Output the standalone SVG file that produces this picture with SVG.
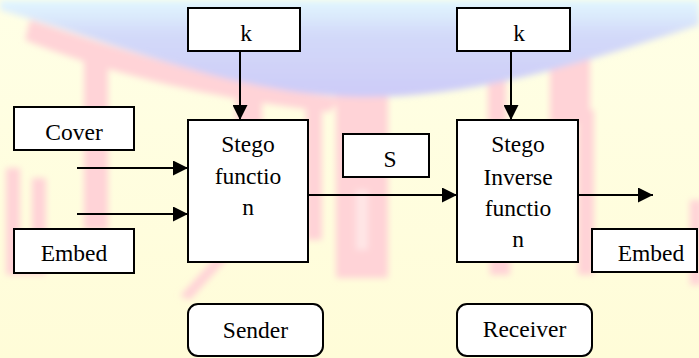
<svg xmlns="http://www.w3.org/2000/svg" width="699" height="358" viewBox="0 0 699 358">
  <style>
    .box { fill: #ffffff; stroke: #000000; stroke-width: 2; }
    .ln { stroke: #000000; stroke-width: 2; fill: none; marker-end: url(#head); }
    .wm { fill: #ffd3d7; }
  </style>
  <defs>
    <marker id="head" viewBox="0 0 15 15" markerWidth="15" markerHeight="15" refX="15" refY="7.5" orient="auto" markerUnits="userSpaceOnUse">
      <path d="M0,0 L15,7.5 L0,15 Z" fill="#000000"/>
    </marker>
    <linearGradient id="bg" x1="0" y1="0" x2="0" y2="1">
      <stop offset="0" stop-color="#ffffe6"/>
      <stop offset="1" stop-color="#fffcd8"/>
    </linearGradient>
    <linearGradient id="sky" x1="0" y1="0" x2="0" y2="1">
      <stop offset="0" stop-color="#e2f8ff"/>
      <stop offset="0.35" stop-color="#d3daf9"/>
      <stop offset="1" stop-color="#cdcbf8"/>
    </linearGradient>
    <filter id="soft" x="-5%" y="-5%" width="110%" height="110%">
      <feGaussianBlur stdDeviation="3"/>
    </filter>
  </defs>

  <!-- backdrop with faint logo watermark -->
  <rect x="0" y="0" width="699" height="358" fill="url(#bg)"/>
  <g id="watermark" filter="url(#soft)">
    <!-- red strokes -->
    <path class="wm" d="M30,20 C120,50 230,85 340,98 L330,112 C220,100 110,75 25,40 Z"/>
    <rect class="wm" x="84" y="55" width="24" height="175"/>
    <path class="wm" d="M6,168 H20 V262 H32 V178 H46 V275 H6 Z"/>
    <rect class="wm" x="236" y="55" width="26" height="70"/>
    <rect class="wm" x="306" y="100" width="16" height="140"/>
    <path class="wm" d="M180,296 L222,250 L230,256 L190,300 Z"/>
    <path class="wm" d="M336,45 H388 V278 H336 Z"/>
    <rect x="356" y="190" width="12" height="60" fill="#ffe6e6"/>
    <rect class="wm" x="488" y="48" width="18" height="75"/>
    <rect class="wm" x="550" y="48" width="40" height="75"/>
    <rect class="wm" x="578" y="110" width="16" height="165"/>
    <rect class="wm" x="490" y="255" width="20" height="20"/>
    <rect class="wm" x="690" y="200" width="12" height="85"/>
    <!-- blue arc across the top -->
    <path d="M0,0 V10 C110,40 230,95 360,97 C480,98 590,60 699,25 V0 Z" fill="url(#sky)"/>
  </g>

  <g id="connectors">
    <line class="ln" x1="240" y1="51" x2="240" y2="120"/>
    <line class="ln" x1="511" y1="51" x2="511" y2="120"/>
    <line class="ln" x1="77" y1="168" x2="188" y2="168"/>
    <line class="ln" x1="77" y1="214" x2="188" y2="214"/>
    <line class="ln" x1="308" y1="195" x2="457" y2="195"/>
    <line class="ln" x1="578" y1="195" x2="653" y2="195"/>
  </g>

  <g id="nodes" font-family="'Liberation Serif', 'DejaVu Serif', serif" font-size="23.5" text-anchor="middle" fill="#000000">
    <g id="key-sender">
      <rect class="box" x="188" y="8" width="112" height="43"/>
      <text x="246" y="41">k</text>
    </g>
    <g id="key-receiver">
      <rect class="box" x="457" y="8" width="113" height="43"/>
      <text x="519" y="41">k</text>
    </g>
    <g id="cover">
      <rect class="box" x="14" y="107" width="120" height="43"/>
      <text x="74" y="140">Cover</text>
    </g>
    <g id="embed-in">
      <rect class="box" x="14" y="229" width="120" height="44"/>
      <text x="74" y="261">Embed</text>
    </g>
    <g id="stego-function">
      <rect class="box" x="188" y="120" width="120" height="142"/>
      <text x="248" y="152">Stego</text>
      <text x="248" y="184">functio</text>
      <text x="248" y="215">n</text>
    </g>
    <g id="stego-channel">
      <rect class="box" x="343" y="134" width="86" height="43"/>
      <text x="390" y="167">S</text>
    </g>
    <g id="stego-inverse">
      <rect class="box" x="457" y="120" width="121" height="142"/>
      <text x="518" y="152">Stego</text>
      <text x="518" y="184.5">Inverse</text>
      <text x="518" y="216">functio</text>
      <text x="518" y="247">n</text>
    </g>
    <g id="embed-out">
      <rect class="box" x="592" y="229" width="105" height="43"/>
      <text x="651" y="261">Embed</text>
    </g>
    <g id="sender">
      <rect class="box" x="188" y="304" width="135" height="52" rx="10"/>
      <text x="255.5" y="338">Sender</text>
    </g>
    <g id="receiver">
      <rect class="box" x="457" y="304" width="135" height="52" rx="10"/>
      <text x="524.5" y="337">Receiver</text>
    </g>
  </g>
</svg>
